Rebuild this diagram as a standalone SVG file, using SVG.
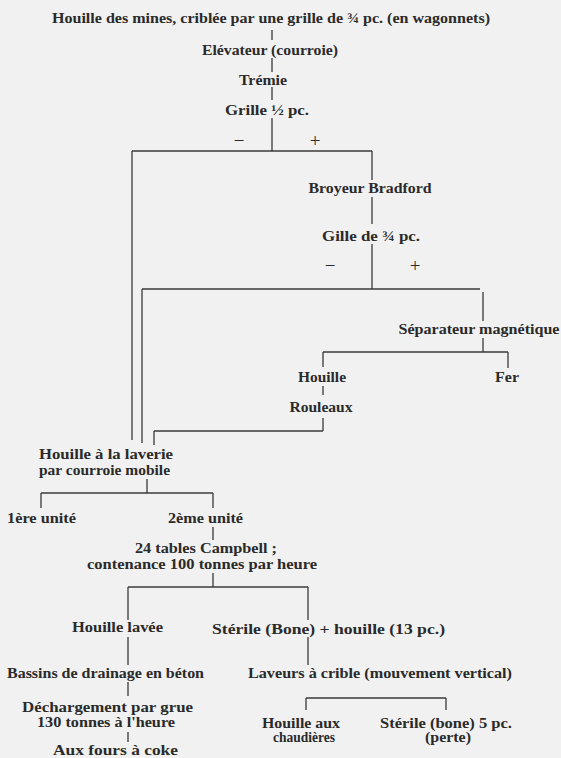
<svg xmlns="http://www.w3.org/2000/svg" width="561" height="758" viewBox="0 0 561 758">
<style>
text{font-family:"Liberation Serif","Times New Roman",serif;font-size:14px;font-weight:bold;fill:#2a2a2a;text-anchor:middle}
text.s{font-size:19px;font-weight:normal}
.c line{stroke:#3a3a3a;stroke-width:1.3;fill:none}
</style>
<rect width="561" height="758" fill="#f1f1f1"/>
<g class="c" id="connectors">
<line x1="272" y1="30" x2="272" y2="40"/>
<line x1="272" y1="58" x2="272" y2="72"/>
<line x1="272" y1="87" x2="272" y2="100"/>
<line x1="272" y1="118" x2="272" y2="151"/>
<line x1="132" y1="151" x2="372" y2="151"/>
<line x1="132" y1="151" x2="132" y2="440"/>
<line x1="372" y1="151" x2="372" y2="180"/>
<line x1="372" y1="197" x2="372" y2="224"/>
<line x1="372" y1="244" x2="372" y2="289"/>
<line x1="142" y1="289" x2="480" y2="289"/>
<line x1="142" y1="289" x2="142" y2="443"/>
<line x1="483" y1="292" x2="483" y2="321"/>
<line x1="483" y1="338" x2="483" y2="352"/>
<line x1="323" y1="352" x2="508" y2="352"/>
<line x1="323" y1="352" x2="323" y2="367"/>
<line x1="508" y1="352" x2="508" y2="368"/>
<line x1="323" y1="386" x2="323" y2="395"/>
<line x1="323" y1="418" x2="323" y2="431"/>
<line x1="154" y1="431" x2="323" y2="431"/>
<line x1="154" y1="431" x2="154" y2="445"/>
<line x1="147" y1="479" x2="147" y2="493"/>
<line x1="41" y1="493" x2="213" y2="493"/>
<line x1="41" y1="493" x2="41" y2="508"/>
<line x1="213" y1="493" x2="213" y2="508"/>
<line x1="213" y1="527" x2="213" y2="540"/>
<line x1="213" y1="573" x2="213" y2="587"/>
<line x1="128" y1="587" x2="308" y2="587"/>
<line x1="128" y1="587" x2="128" y2="620"/>
<line x1="128" y1="637" x2="128" y2="665"/>
<line x1="128" y1="682" x2="128" y2="696"/>
<line x1="128" y1="732" x2="128" y2="742"/>
<line x1="308" y1="587" x2="308" y2="620"/>
<line x1="308" y1="637" x2="308" y2="665"/>
<line x1="306" y1="698" x2="446" y2="698"/>
<line x1="306" y1="698" x2="306" y2="710"/>
<line x1="446" y1="698" x2="446" y2="710"/>
</g>
<g id="n-houille-mines"><text x="271" y="23" textLength="438" lengthAdjust="spacingAndGlyphs">Houille des mines, criblée par une grille de ¾ pc. (en wagonnets)</text></g>
<g id="n-elevateur"><text x="270" y="55" textLength="136" lengthAdjust="spacingAndGlyphs">Elévateur (courroie)</text></g>
<g id="n-tremie"><text x="263" y="85" textLength="48" lengthAdjust="spacingAndGlyphs">Trémie</text></g>
<g id="n-grille"><text x="267" y="115" textLength="84" lengthAdjust="spacingAndGlyphs">Grille ½ pc.</text></g>
<g id="n-signs1"><text class="s" x="239" y="147">−</text><text class="s" x="315" y="147">+</text></g>
<g id="n-broyeur"><text x="370" y="193" textLength="123" lengthAdjust="spacingAndGlyphs">Broyeur Bradford</text></g>
<g id="n-gille"><text x="371" y="241" textLength="98" lengthAdjust="spacingAndGlyphs">Gille de ¾ pc.</text></g>
<g id="n-signs2"><text class="s" x="330" y="272">−</text><text class="s" x="415" y="272">+</text></g>
<g id="n-separateur"><text x="479" y="334" textLength="161" lengthAdjust="spacingAndGlyphs">Séparateur  magnétique</text></g>
<g id="n-houille"><text x="322" y="382" textLength="48" lengthAdjust="spacingAndGlyphs">Houille</text></g>
<g id="n-fer"><text x="507" y="382" textLength="24" lengthAdjust="spacingAndGlyphs">Fer</text></g>
<g id="n-rouleaux"><text x="321" y="412" textLength="63" lengthAdjust="spacingAndGlyphs">Rouleaux</text></g>
<g id="n-laverie"><text x="106" y="459" textLength="134" lengthAdjust="spacingAndGlyphs">Houille à la laverie</text><text x="104.5" y="475" textLength="131" lengthAdjust="spacingAndGlyphs">par courroie mobile</text></g>
<g id="n-unite1"><text x="41.5" y="523" textLength="69" lengthAdjust="spacingAndGlyphs">1ère unité</text></g>
<g id="n-unite2"><text x="205.5" y="523" textLength="75" lengthAdjust="spacingAndGlyphs">2ème unité</text></g>
<g id="n-campbell"><text x="206" y="553" textLength="142" lengthAdjust="spacingAndGlyphs">24 tables Campbell ;</text><text x="202" y="569" textLength="230" lengthAdjust="spacingAndGlyphs">contenance 100 tonnes par heure</text></g>
<g id="n-lavee"><text x="117.5" y="632" textLength="91" lengthAdjust="spacingAndGlyphs">Houille lavée</text></g>
<g id="n-sterile"><text x="328.5" y="634" textLength="233" lengthAdjust="spacingAndGlyphs">Stérile (Bone)  + houille (13 pc.)</text></g>
<g id="n-bassins"><text x="105.5" y="678" textLength="197" lengthAdjust="spacingAndGlyphs">Bassins de drainage en béton</text></g>
<g id="n-laveurs"><text x="380" y="678" textLength="264" lengthAdjust="spacingAndGlyphs">Laveurs à crible (mouvement vertical)</text></g>
<g id="n-dechargement"><text x="107.5" y="712" textLength="171" lengthAdjust="spacingAndGlyphs">Déchargement  par  grue</text><text x="106" y="727" textLength="138" lengthAdjust="spacingAndGlyphs">130 tonnes à l'heure</text></g>
<g id="n-chaudieres"><text x="301" y="728" textLength="78" lengthAdjust="spacingAndGlyphs">Houille aux</text><text x="304" y="742" textLength="62" lengthAdjust="spacingAndGlyphs">chaudières</text></g>
<g id="n-perte"><text x="446" y="728" textLength="132" lengthAdjust="spacingAndGlyphs">Stérile (bone) 5 pc.</text><text x="448" y="742" textLength="46" lengthAdjust="spacingAndGlyphs">(perte)</text></g>
<g id="n-fours"><text x="115.5" y="755" textLength="125" lengthAdjust="spacingAndGlyphs">Aux fours à coke</text></g>
</svg>
